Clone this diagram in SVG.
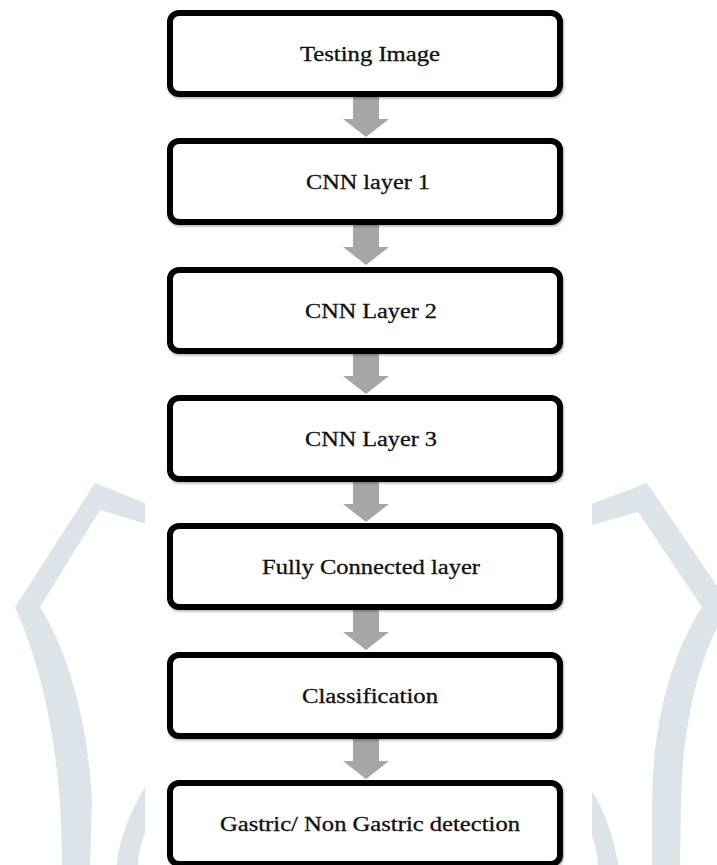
<svg xmlns="http://www.w3.org/2000/svg" width="717" height="865" viewBox="0 0 717 865">
  <defs>
    <style>
      .box { fill: #ffffff; stroke: #000000; stroke-width: 6; filter: url(#soft); }
      .label { font-family: "Liberation Serif", "Times New Roman", serif; font-size: 20px; fill: #111111; stroke: #111111; stroke-width: 0.3; text-anchor: middle; }
      .arrow { fill: #a6a6a6; }
      .mark { fill: #dde4e9; }
    </style>
    <filter id="soft" x="-5%" y="-10%" width="110%" height="125%">
      <feDropShadow dx="1" dy="1.5" stdDeviation="1.2" flood-color="#000" flood-opacity="0.3"/>
    </filter>
    <clipPath id="sides">
      <rect x="0" y="0" width="145" height="865"/>
      <rect x="592" y="0" width="125" height="865"/>
    </clipPath>
  </defs>

  <rect width="717" height="865" fill="#ffffff"/>

  <!-- background emblem, visible only at the sides -->
  <g id="emblem" clip-path="url(#sides)">
    <path class="mark" d="M 95 483 L 170 513 L 170 531 L 100 510 L 40 607 C 70 655, 88 725, 92 800 L 90 870 L 62 870 C 62 800, 56 700, 15 607 Z"/>
    <path class="mark" d="M 147 784 C 130 810, 119 840, 116 870 L 138 870 C 138 856, 140 843, 147 830 Z"/>
    <path class="mark" d="M 647 483 L 730 605 C 700 650, 683 720, 681 800 L 680 870 L 652 870 L 652 800 C 653 730, 668 660, 702 607 L 638 512 L 567 532 L 567 513 Z"/>
    <path class="mark" d="M 590 788 C 605 810, 615 840, 619 870 L 598 870 C 598 856, 596 843, 590 832 Z"/>
  </g>

  <!-- connectors -->
  <g id="connectors">
    <path class="arrow" d="M 353 97 L 379 97 L 379 119 L 389 119 L 366 137 L 343 119 L 353 119 Z"/>
    <path class="arrow" d="M 353 225 L 379 225 L 379 247 L 389 247 L 366 265 L 343 247 L 353 247 Z"/>
    <path class="arrow" d="M 353 354 L 379 354 L 379 376 L 389 376 L 366 394 L 343 376 L 353 376 Z"/>
    <path class="arrow" d="M 353 482 L 379 482 L 379 504 L 389 504 L 366 522 L 343 504 L 353 504 Z"/>
    <path class="arrow" d="M 353 610 L 379 610 L 379 632 L 389 632 L 366 650 L 343 632 L 353 632 Z"/>
    <path class="arrow" d="M 353 739 L 379 739 L 379 761 L 389 761 L 366 779 L 343 761 L 353 761 Z"/>
  </g>

  <g id="testing-image">
    <rect class="box" x="170" y="13" width="390" height="81" rx="9"/>
    <text class="label" x="370" y="61" textLength="140" lengthAdjust="spacingAndGlyphs">Testing Image</text>
  </g>
  <g id="cnn-layer-1">
    <rect class="box" x="170" y="141" width="390" height="81" rx="9"/>
    <text class="label" x="368" y="189" textLength="124" lengthAdjust="spacingAndGlyphs">CNN layer 1</text>
  </g>
  <g id="cnn-layer-2">
    <rect class="box" x="170" y="270" width="390" height="81" rx="9"/>
    <text class="label" x="371" y="317.5" textLength="132" lengthAdjust="spacingAndGlyphs">CNN Layer 2</text>
  </g>
  <g id="cnn-layer-3">
    <rect class="box" x="170" y="398" width="390" height="81" rx="9"/>
    <text class="label" x="371" y="446" textLength="132" lengthAdjust="spacingAndGlyphs">CNN Layer 3</text>
  </g>
  <g id="fully-connected">
    <rect class="box" x="170" y="526" width="390" height="81" rx="9"/>
    <text class="label" x="371" y="574" textLength="218" lengthAdjust="spacingAndGlyphs">Fully Connected layer</text>
  </g>
  <g id="classification">
    <rect class="box" x="170" y="655" width="390" height="81" rx="9"/>
    <text class="label" x="370" y="702.5" textLength="136" lengthAdjust="spacingAndGlyphs">Classification</text>
  </g>
  <g id="detection">
    <rect class="box" x="170" y="783" width="390" height="81" rx="9"/>
    <text class="label" x="370" y="831" textLength="300" lengthAdjust="spacingAndGlyphs">Gastric/ Non Gastric detection</text>
  </g>
</svg>
